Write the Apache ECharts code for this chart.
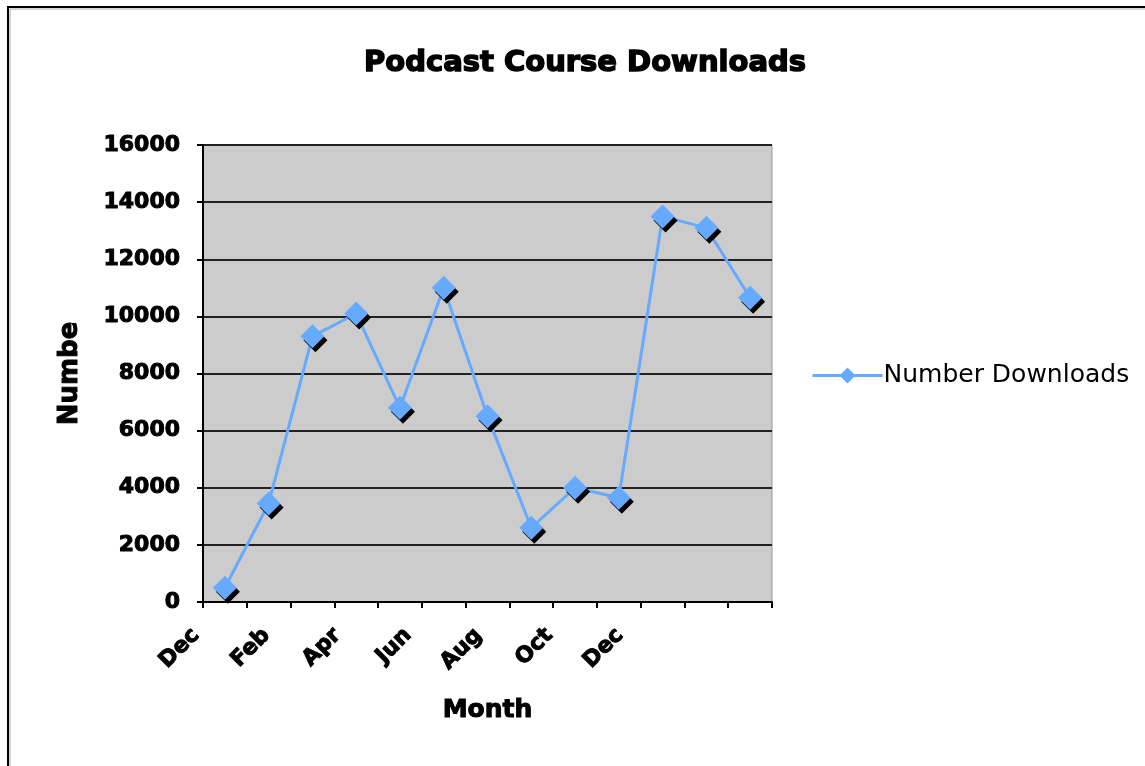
<!DOCTYPE html>
<html>
<head>
<meta charset="utf-8">
<script src="https://cdn.jsdelivr.net/npm/echarts@6/dist/echarts.min.js"></script>
<style>
    html, body { margin: 0; padding: 0; background: #fff; }
    #main { width: 1145px; height: 766px; }
</style>
</head>
<body>
<div id="main"></div>
<script>
    // 数据
    var months = ['Dec', 'Jan', 'Feb', 'Mar', 'Apr', 'May', 'Jun', 'Jul', 'Aug', 'Sep', 'Oct', 'Nov', 'Dec'];
    var downloads = [500, 3450, 9300, 10100, 6800, 11000, 6500, 2600, 4000, 3650, 13500, 13100, 10650];
    var monthLabels = ['Dec', 'Feb', 'Apr', 'Jun', 'Aug', 'Oct', 'Dec'];

    var boldFont = 'DejaVu Sans';
    // 加粗文字（描边）
    function heavy(size, bw) {
        return {
            fontFamily: boldFont, fontWeight: 'bold', fontSize: size, color: '#000',
            textBorderColor: '#000', textBorderWidth: bw || 1
        };
    }

    var myChart = echarts.init(document.getElementById('main'));

    option = {
        backgroundColor: '#fff',
        animation: false,
        // 外框（左、上）
        graphic: [
            {
                type: 'polyline',
                shape: { points: [[8, 766], [8, 7], [1145, 7]] },
                style: { stroke: '#000', lineWidth: 2, fill: null }
            },
            {
                type: 'polyline',
                shape: { points: [[10, 766], [10, 9], [1145, 9]] },
                style: { stroke: '#aaa', lineWidth: 1, fill: null }
            }
        ],
        title: {
            text: 'Podcast Course Downloads',
            left: 580,
            top: 44,
            textAlign: 'center',
            textStyle: heavy(29, 1.5)
        },
        legend: {
            data: ['Number Downloads'],
            left: 806,
            top: 358,
            itemWidth: 70,
            itemHeight: 20,
            lineStyle: { width: 3 },
            itemStyle: { shadowOffsetX: 0, shadowOffsetY: 0, shadowColor: 'transparent' },
            textStyle: { fontFamily: 'DejaVu Sans', fontSize: 25, color: '#000', padding: [0, 0, 0, -4] }
        },
        grid: [
            { left: 203, right: 373, top: 145, bottom: 164, show: true, backgroundColor: '#cccccc', borderColor: '#999', borderWidth: 1 },
            // 月份标签用的网格（只显示标签）
            { left: 196, right: 525, top: 560, bottom: 164 }
        ],
        xAxis: [
            {
                type: 'category',
                gridIndex: 0,
                data: months,
                boundaryGap: true,
                name: 'Month',
                nameLocation: 'middle',
                nameGap: 96,
                nameTextStyle: heavy(25),
                axisLine: { lineStyle: { color: '#000', width: 2 } },
                axisTick: { show: true, interval: 0, length: 6, lineStyle: { color: '#000', width: 2 } },
                axisLabel: { show: false }
            },
            {
                type: 'value',
                gridIndex: 1,
                min: 0,
                max: 6,
                interval: 1,
                axisLine: { show: false },
                axisTick: { show: false },
                splitLine: { show: false },
                axisLabel: Object.assign({
                    rotate: 45,
                    margin: 30,
                    formatter: function (v) { return monthLabels[v]; }
                }, heavy(22))
            }
        ],
        yAxis: [
            {
                type: 'value',
                gridIndex: 0,
                min: 0,
                max: 16000,
                interval: 2000,
                name: 'Numbe',
                nameLocation: 'middle',
                nameRotate: 90,
                nameGap: 120,
                nameTextStyle: heavy(26),
                axisLine: { show: true, lineStyle: { color: '#000', width: 2 } },
                axisTick: { show: true, length: 6, lineStyle: { color: '#000', width: 2 } },
                axisLabel: Object.assign({
                    margin: 23,
                    formatter: function (v) { return String(v); }
                }, heavy(22)),
                splitLine: { lineStyle: { color: '#222', width: 2 } }
            },
            {
                type: 'value',
                gridIndex: 1,
                show: false
            }
        ],
        series: [
            {
                name: 'Number Downloads',
                type: 'line',
                xAxisIndex: 0,
                yAxisIndex: 0,
                data: downloads,
                symbol: 'diamond',
                symbolSize: 24,
                lineStyle: { color: '#66aaff', width: 3 },
                itemStyle: {
                    color: '#66aaff',
                    shadowColor: '#000',
                    shadowBlur: 0,
                    shadowOffsetX: 3,
                    shadowOffsetY: 4
                }
            }
        ]
    };

    myChart.setOption(option);
</script>
</body>
</html>
